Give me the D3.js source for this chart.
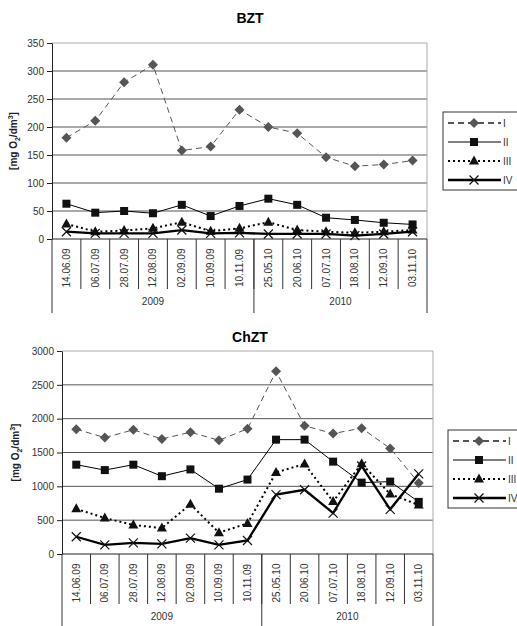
<!DOCTYPE html>
<html>
<head>
<meta charset="utf-8">
<script src="https://cdn.jsdelivr.net/npm/d3@7"></script>
<style>
  body { margin: 0; background: #fff; }
  text { font-family: "Liberation Sans", Arial, sans-serif; }
</style>
</head>
<body>
<svg id="tela"></svg>
<script>
// dane
const datas = ['14.06.09', '06.07.09', '28.07.09', '12.08.09', '02.09.09', '10.09.09', '10.11.09',
               '25.05.10', '20.06.10', '07.07.10', '18.08.10', '12.09.10', '03.11.10'];
const anos = ['2009', '2010'];
const anosContagem = [7, 6];
const nomesSeries = ['I', 'II', 'III', 'IV'];

const bztI   = [181, 211, 280, 311, 158, 165, 231, 200, 189, 146, 130, 133, 140];
const bztII  = [63, 47, 50, 46, 61, 41, 59, 72, 61, 38, 34, 29, 26];
const bztIII = [27, 13, 15, 19, 30, 14, 19, 30, 16, 13, 11, 13, 16];
const bztIV  = [13, 10, 10, 10, 16, 10, 11, 9, 9, 9, 6, 9, 13];
const bztTicks = [0, 50, 100, 150, 200, 250, 300, 350];

const chztI   = [1845, 1720, 1835, 1700, 1800, 1680, 1850, 2700, 1895, 1780, 1860, 1560, 1050];
const chztII  = [1320, 1240, 1320, 1150, 1250, 965, 1100, 1690, 1690, 1365, 1055, 1070, 770];
const chztIII = [668, 532, 428, 384, 735, 315, 452, 1205, 1330, 775, 1335, 885, 725];
const chztIV  = [255, 135, 165, 150, 235, 134, 200, 877, 949, 605, 1300, 660, 1185];
const chztTicks = [0, 500, 1000, 1500, 2000, 2500, 3000];

const svg = d3.select('#tela').attr('width', 517).attr('height', 626);

const estilos = [
    { cor: '#555', largura: 1, traco: '6,4', marcador: 'diamante' },
    { cor: '#000', largura: 1, traco: null, marcador: 'quadrado' },
    { cor: '#000', largura: 2, traco: '2,3', marcador: 'triangulo' },
    { cor: '#000', largura: 2.3, traco: null, marcador: 'x' }
];

function desenhaMarcador(g, tipo, x, y) {
    if (tipo === 'diamante') {
        g.append('path').attr('d', `M${x},${y - 5}L${x + 5},${y}L${x},${y + 5}L${x - 5},${y}Z`).attr('fill', '#555');
    } else if (tipo === 'quadrado') {
        g.append('rect').attr('x', x - 4).attr('y', y - 4).attr('width', 8).attr('height', 8).attr('fill', '#111');
    } else if (tipo === 'triangulo') {
        g.append('path').attr('d', `M${x},${y - 5.5}L${x + 5},${y + 3.5}L${x - 5},${y + 3.5}Z`).attr('fill', '#111');
    } else {
        g.append('path').attr('d', `M${x - 4.5},${y - 4.5}L${x + 4.5},${y + 4.5}M${x - 4.5},${y + 4.5}L${x + 4.5},${y - 4.5}`)
            .attr('stroke', '#111').attr('stroke-width', 1.2).attr('fill', 'none');
    }
}

function Grafico(p) {
    const x = d3.scaleBand().domain(datas).range([p.esquerda, p.direita]).padding(0);
    const y = d3.scaleLinear().domain([0, d3.max(p.ticks)]).range([p.inferior, p.superior]);

    svg.append('text')
        .attr('x', 250).attr('y', p.yTitulo)
        .attr('text-anchor', 'middle')
        .style('font-weight', 'bold').style('font-size', '14px')
        .text(p.titulo);

    // grade
    svg.append('g').selectAll('line').data(p.ticks.slice(1)).enter().append('line')
        .attr('x1', p.esquerda).attr('x2', p.direita)
        .attr('y1', d => y(d)).attr('y2', d => y(d))
        .attr('stroke', (d, i) => i === p.ticks.length - 2 ? '#aaa' : '#555').attr('stroke-width', 1);

    svg.append('line')
        .attr('x1', p.direita).attr('x2', p.direita)
        .attr('y1', p.superior).attr('y2', p.inferior)
        .attr('stroke', '#aaa');

    // eixo Y
    const eixoY = d3.axisLeft(y).tickValues(p.ticks).tickFormat(d3.format('d'))
        .tickSize(5).tickPadding(3).tickSizeOuter(0);
    const gY = svg.append('g').attr('transform', `translate(${p.esquerda},0)`).call(eixoY);
    gY.select('.domain').attr('stroke', '#222');
    gY.selectAll('.tick line').attr('stroke', '#222');
    gY.selectAll('text').style('font-size', '10px').style('font-family', '"Liberation Sans", Arial, sans-serif').attr('fill', '#333');

    // eixo X
    svg.append('line')
        .attr('x1', p.esquerda).attr('x2', p.direita)
        .attr('y1', p.inferior).attr('y2', p.inferior)
        .attr('stroke', '#222');

    const limites = datas.slice(1).map(d => x(d));
    svg.append('g').selectAll('line').data(limites).enter().append('line')
        .attr('x1', d => d).attr('x2', d => d)
        .attr('y1', p.inferior).attr('y2', p.inferior + 50)
        .attr('stroke', '#333');

    let acumulado = 0;
    const limitesAnos = [x(datas[0])];
    anosContagem.forEach(n => { acumulado += n; limitesAnos.push(acumulado < datas.length ? x(datas[acumulado]) : p.direita); });
    svg.append('g').selectAll('line').data(limitesAnos).enter().append('line')
        .attr('x1', d => d).attr('x2', d => d)
        .attr('y1', p.inferior).attr('y2', p.inferior + 74)
        .attr('stroke', '#333');

    svg.append('g').selectAll('text').data(anos).enter().append('text')
        .attr('x', (d, i) => (limitesAnos[i] + limitesAnos[i + 1]) / 2)
        .attr('y', p.inferior + 66)
        .attr('text-anchor', 'middle')
        .style('font-size', '10px').attr('fill', '#333')
        .text(d => d);

    svg.append('g').selectAll('text').data(datas).enter().append('text')
        .attr('transform', d => `translate(${x(d) + x.bandwidth() / 2 + 3.5},${p.inferior + 29}) rotate(-90)`)
        .attr('text-anchor', 'middle')
        .style('font-size', '10px').attr('fill', '#333')
        .text(d => d);

    // titulo Y
    const rotulo = svg.append('text')
        .attr('transform', `translate(${p.xRotulo},${(p.superior + p.inferior) / 2}) rotate(-90)`)
        .attr('text-anchor', 'middle')
        .style('font-size', '10px').style('font-weight', 'bold').attr('fill', '#222');
    rotulo.append('tspan').text('[mg O');
    rotulo.append('tspan').attr('dy', 3).style('font-size', '7px').text('2');
    rotulo.append('tspan').attr('dy', -3).text('/dm');
    rotulo.append('tspan').attr('dy', -4).style('font-size', '7px').text('3');
    rotulo.append('tspan').attr('dy', 4).text(']');

    // series
    const linha = d3.line().x((d, i) => x(datas[i]) + x.bandwidth() / 2).y(d => y(d));
    p.series.forEach((serie, s) => {
        const e = estilos[s];
        svg.append('path').datum(serie)
            .attr('d', linha)
            .attr('fill', 'none')
            .attr('stroke', e.cor)
            .attr('stroke-width', e.largura)
            .attr('stroke-dasharray', e.traco);
        const g = svg.append('g');
        serie.forEach((v, i) => desenhaMarcador(g, e.marcador, x(datas[i]) + x.bandwidth() / 2, y(v)));
    });

    // legenda
    const leg = svg.append('g').attr('transform', `translate(${p.legX},${p.legY})`);
    leg.append('rect').attr('x', 0).attr('y', 0).attr('width', 100).attr('height', 78)
        .attr('fill', '#fff').attr('stroke', '#333');
    nomesSeries.forEach((nome, s) => {
        const e = estilos[s];
        const yy = 11 + s * 19;
        leg.append('line').attr('x1', 5).attr('x2', 58).attr('y1', yy).attr('y2', yy)
            .attr('stroke', e.cor).attr('stroke-width', s === 0 ? 2 : e.largura)
            .attr('stroke-dasharray', e.traco);
        desenhaMarcador(leg, e.marcador, 31, yy);
        leg.append('text').attr('x', 60).attr('y', yy + 3.5)
            .style('font-size', '10px').attr('fill', '#333').text(nome);
    });
}

new Grafico({
    titulo: 'BZT', yTitulo: 23,
    esquerda: 52, direita: 427, superior: 43, inferior: 239,
    xRotulo: 17, legX: 443, legY: 112,
    ticks: bztTicks,
    series: [bztI, bztII, bztIII, bztIV]
});

new Grafico({
    titulo: 'ChZT', yTitulo: 342,
    esquerda: 62, direita: 433, superior: 351, inferior: 554,
    xRotulo: 19, legX: 448, legY: 430,
    ticks: chztTicks,
    series: [chztI, chztII, chztIII, chztIV]
});
</script>
</body>
</html>
